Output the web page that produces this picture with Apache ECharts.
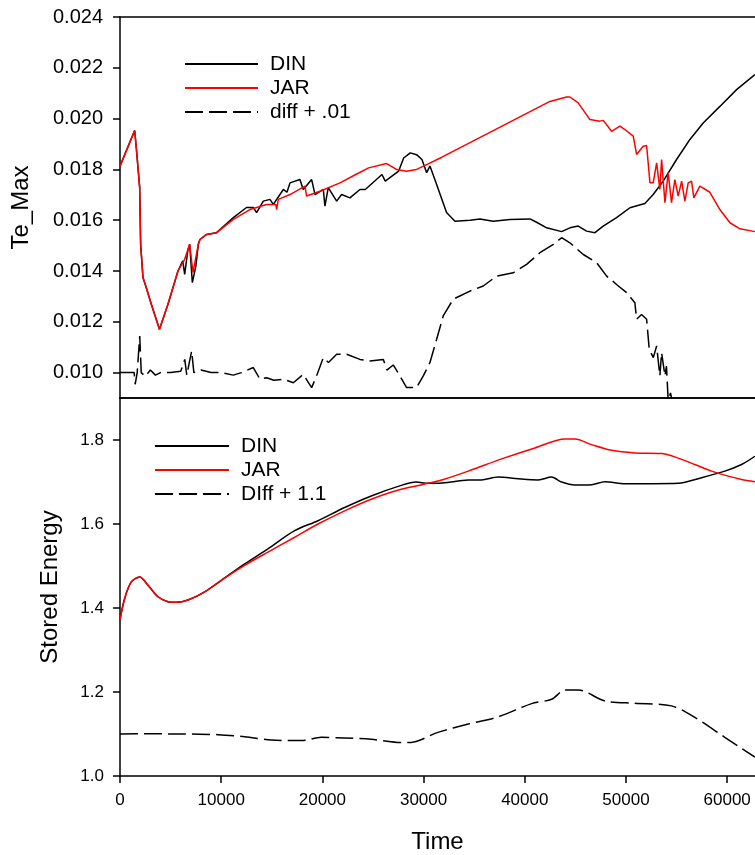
<!DOCTYPE html>
<html>
<head>
<meta charset="utf-8">
<script src="https://cdn.jsdelivr.net/npm/echarts@6/dist/echarts.min.js"></script>
<style>
  html, body { margin: 0; padding: 0; background: #fff; }
  #chart { width: 755px; height: 855px; }
</style>
</head>
<body>
<div id="chart"></div>
<script>
// ---------- Data ----------
const X_MAX = 62750;
const xTicks = [0, 10000, 20000, 30000, 40000, 50000, 60000];
const teTicks = [0.010, 0.012, 0.014, 0.016, 0.018, 0.020, 0.022, 0.024];
const seTicks = [1.0, 1.2, 1.4, 1.6, 1.8];

// Top panel: Te_Max
const teDinT = [0, 1450, 1610, 1945, 2040, 2270, 2600, 3095, 3425, 3900, 4740, 5730, 6200, 6390, 6700, 6885, 7150, 7500, 7740, 7900, 8560, 9550, 11200, 12500, 13170, 13500, 14160, 14820, 15150, 16140, 16500, 16800, 17780, 18110, 18940, 19270, 20090, 20250, 20580, 21410, 21900, 22720, 23710, 24240, 25890, 26210, 27530, 28030, 28680, 29310, 29840, 30300, 30630, 31290, 32270, 33100, 34580, 35570, 36880, 38530, 40510, 41170, 42160, 43640, 44460, 45280, 46110, 46930, 47750, 49070, 50390, 51870, 52690, 53680, 55000, 56320, 57630, 59280, 60930, 62740];
const teDinV = [0.01813, 0.01953, 0.01885, 0.01728, 0.01505, 0.01374, 0.01334, 0.01269, 0.01229, 0.01171, 0.01269, 0.01400, 0.01440, 0.01387, 0.01480, 0.01505, 0.01354, 0.01420, 0.01505, 0.01524, 0.01544, 0.01551, 0.01610, 0.01650, 0.01650, 0.01630, 0.01675, 0.01682, 0.01662, 0.01721, 0.01710, 0.01747, 0.01760, 0.01721, 0.01760, 0.01701, 0.01721, 0.01655, 0.01728, 0.01675, 0.01701, 0.01688, 0.01721, 0.01721, 0.01780, 0.01754, 0.01793, 0.01845, 0.01865, 0.01858, 0.01839, 0.01787, 0.01813, 0.01741, 0.01630, 0.01596, 0.01600, 0.01605, 0.01596, 0.01603, 0.01605, 0.01592, 0.01570, 0.01555, 0.01570, 0.01577, 0.01557, 0.01551, 0.01577, 0.01610, 0.01649, 0.01666, 0.01701, 0.01754, 0.01839, 0.01918, 0.01983, 0.02048, 0.02114, 0.02173];

const teJarT = [0, 1450, 1610, 1945, 2040, 2270, 2600, 3095, 3425, 3900, 4740, 5730, 6390, 6885, 7210, 7740, 7900, 8560, 9550, 11200, 12840, 14490, 15400, 15480, 15640, 16800, 18280, 18440, 19760, 21740, 23300, 24570, 26340, 27330, 28320, 29310, 30300, 31810, 42390, 44130, 44460, 45280, 46440, 47420, 47750, 48580, 49400, 49890, 50720, 51050, 51700, 52040, 52370, 52690, 53030, 53350, 53520, 53850, 54170, 54500, 54830, 55160, 55500, 55820, 56150, 56480, 56710, 57300, 58290, 59280, 60270, 61260, 62740];
const teJarV = [0.01813, 0.01953, 0.01885, 0.01728, 0.01505, 0.01374, 0.01334, 0.01269, 0.01229, 0.01171, 0.01269, 0.01400, 0.01446, 0.01505, 0.01394, 0.01505, 0.01524, 0.01544, 0.01551, 0.01603, 0.01642, 0.01662, 0.01662, 0.01642, 0.01682, 0.01701, 0.01734, 0.01695, 0.01714, 0.01747, 0.01780, 0.01806, 0.01823, 0.01800, 0.01793, 0.01800, 0.01819, 0.01848, 0.02066, 0.02085, 0.02085, 0.02062, 0.01996, 0.01990, 0.01993, 0.01950, 0.01970, 0.01957, 0.01931, 0.01859, 0.01891, 0.01894, 0.01747, 0.01747, 0.01826, 0.01721, 0.01839, 0.01669, 0.01787, 0.01669, 0.01760, 0.01695, 0.01754, 0.01675, 0.01747, 0.01754, 0.01688, 0.01734, 0.01710, 0.01642, 0.01590, 0.01566, 0.01555];

const teDiffT = [0, 1400, 1500, 1700, 1950, 2100, 2500, 3000, 3500, 4000, 5000, 6000, 6400, 6600, 7080, 7300, 8000, 9000, 10000, 11200, 12000, 13170, 13830, 14490, 15200, 16140, 17130, 18110, 18940, 19430, 20090, 20600, 21410, 22400, 23710, 24700, 26020, 26370, 27000, 27660, 28320, 29310, 29970, 30630, 31290, 31940, 32930, 34580, 35900, 37210, 38860, 40180, 41500, 42820, 43640, 44460, 45780, 47100, 48090, 49070, 50060, 50880, 51050, 51540, 52040, 52300, 52700, 53030, 53350, 53520, 53850, 54000, 54170, 54400, 54600, 55000, 56500, 58000, 60000, 62740];
const teDiffV = [0.01000, 0.01000, 0.00954, 0.01000, 0.01144, 0.01000, 0.00985, 0.01010, 0.00990, 0.01000, 0.01000, 0.01005, 0.01052, 0.00990, 0.01085, 0.01000, 0.01010, 0.01000, 0.01000, 0.00990, 0.01000, 0.01020, 0.00974, 0.00980, 0.00970, 0.00974, 0.00960, 0.00993, 0.00941, 0.00987, 0.01059, 0.01040, 0.01072, 0.01072, 0.01052, 0.01046, 0.01052, 0.01010, 0.01030, 0.00987, 0.00941, 0.00941, 0.00987, 0.01040, 0.01131, 0.01223, 0.01289, 0.01321, 0.01341, 0.01380, 0.01393, 0.01426, 0.01472, 0.01505, 0.01531, 0.01511, 0.01465, 0.01433, 0.01380, 0.01347, 0.01315, 0.01275, 0.01210, 0.01229, 0.01210, 0.01092, 0.01059, 0.01105, 0.00987, 0.01079, 0.00987, 0.01026, 0.00890, 0.00920, 0.00880, 0.00860, 0.00780, 0.00660, 0.00520, 0.00380];

// Bottom panel: Stored Energy
const seDinT = [0, 460, 1120, 1940, 2770, 3750, 4740, 5570, 6720, 8370, 10010, 12320, 14620, 17260, 19560, 22200, 24830, 27790, 29270, 30430, 31120, 34410, 35720, 37380, 39350, 41330, 42650, 43640, 44950, 46600, 47920, 49890, 52530, 55160, 57470, 59770, 61420, 62740];
const seDinV = [1.3715, 1.4228, 1.4622, 1.4740, 1.4543, 1.4268, 1.4150, 1.4134, 1.4189, 1.4386, 1.4660, 1.5050, 1.5410, 1.5840, 1.6078, 1.6393, 1.6668, 1.6920, 1.6999, 1.6968, 1.6968, 1.7046, 1.7050, 1.7121, 1.7078, 1.7050, 1.7117, 1.6999, 1.6928, 1.6936, 1.7007, 1.6960, 1.6960, 1.6968, 1.7102, 1.7259, 1.7417, 1.7613];

const seJarT = [0, 460, 1120, 1940, 2770, 3750, 4740, 5570, 6720, 8370, 10010, 12320, 14620, 17260, 19560, 22200, 24830, 27790, 31420, 34410, 37710, 41000, 43970, 44950, 46600, 48580, 50880, 53520, 54830, 56810, 58460, 60100, 61420, 62740];
const seJarV = [1.3715, 1.4228, 1.4622, 1.4740, 1.4543, 1.4268, 1.4150, 1.4134, 1.4189, 1.4386, 1.4660, 1.5015, 1.5331, 1.5685, 1.6000, 1.6314, 1.6590, 1.6826, 1.7022, 1.7259, 1.7550, 1.7811, 1.8023, 1.8023, 1.7890, 1.7755, 1.7693, 1.7677, 1.7598, 1.7417, 1.7259, 1.7140, 1.7062, 1.7007];

const seDiffT = [0, 2750, 6000, 9680, 12320, 14950, 17920, 19890, 22200, 24830, 27790, 28780, 31420, 34410, 37380, 40680, 42650, 43970, 45280, 47920, 50880, 54500, 56810, 59770, 62740];
const seDiffV = [1.1000, 1.1005, 1.1000, 1.0985, 1.0937, 1.0857, 1.0843, 1.0921, 1.0905, 1.0874, 1.0795, 1.0800, 1.1039, 1.1236, 1.1410, 1.1724, 1.1826, 1.2048, 1.2048, 1.1787, 1.1731, 1.1670, 1.1394, 1.0921, 1.0449];

// ---------- Chart ----------
const FONT = 'Liberation Sans, Arial, sans-serif';
const pairs = (t, v) => t.map((x, i) => [x, v[i]]);
const axisLine = { show: true, onZero: false, lineStyle: { color: '#000', width: 1.5 } };
const plainX = (grid, pos) => ({
  type: 'value', gridIndex: grid, position: pos, min: 0, max: X_MAX,
  axisLine: axisLine, axisTick: { show: false }, axisLabel: { show: false }, splitLine: { show: false }
});
const legendText = { fontFamily: FONT, fontSize: 21, color: '#000', lineHeight: 24, padding: [0, 0, 0, 7] };

const chart = echarts.init(document.getElementById('chart'), null, { renderer: 'canvas' });
chart.setOption({
  animation: false,
  backgroundColor: '#fff',
  textStyle: { fontFamily: FONT, color: '#000' },
  grid: [
    { left: 120, right: 0, top: 17, height: 381, containLabel: false },
    { left: 120, right: 0, top: 398, height: 381, containLabel: false }
  ],
  legend: [
    {
      orient: 'vertical', left: 179, top: 47, itemWidth: 73, itemHeight: 14, itemGap: 0,
      data: ['DIN', 'JAR', 'diff + .01'], selectedMode: false,
      itemStyle: { opacity: 0 },
      textStyle: legendText
    },
    {
      orient: 'vertical', left: 149, top: 429, itemWidth: 74, itemHeight: 14, itemGap: 0,
      data: ['DIN', 'JAR', 'DIff + 1.1'], selectedMode: false,
      itemStyle: { opacity: 0 },
      textStyle: legendText
    }
  ],
  xAxis: [
    plainX(0, 'bottom'),
    plainX(0, 'top'),
    {
      type: 'value', gridIndex: 1, position: 'bottom', min: 0, max: X_MAX,
      name: 'Time', nameLocation: 'middle', nameGap: 54,
      nameTextStyle: { fontFamily: FONT, fontSize: 24, color: '#000' },
      axisLine: axisLine,
      axisTick: { show: true, length: 7, inside: false, customValues: xTicks, lineStyle: { color: '#000', width: 1.5 } },
      axisLabel: { show: true, margin: 16, customValues: xTicks, fontFamily: FONT, fontSize: 17, color: '#000',
                   formatter: v => String(Math.round(v)) },
      splitLine: { show: false }
    },
    plainX(1, 'top')
  ],
  yAxis: [
    {
      type: 'value', gridIndex: 0, min: 0.009, max: 0.024,
      name: 'Te_Max', nameLocation: 'middle', nameGap: 87, nameRotate: 90,
      nameTextStyle: { fontFamily: FONT, fontSize: 24, color: '#000' },
      axisLine: axisLine,
      axisTick: { show: true, length: 7, customValues: teTicks, lineStyle: { color: '#000', width: 1.5 } },
      axisLabel: { show: true, margin: 17, customValues: teTicks, fontFamily: FONT, fontSize: 20, color: '#000',
                   formatter: v => v.toFixed(3) },
      splitLine: { show: false }
    },
    {
      type: 'value', gridIndex: 1, min: 1.0, max: 1.9,
      name: 'Stored Energy', nameLocation: 'middle', nameGap: 58, nameRotate: 90,
      nameTextStyle: { fontFamily: FONT, fontSize: 24, color: '#000' },
      axisLine: axisLine,
      axisTick: { show: true, length: 7, customValues: seTicks, lineStyle: { color: '#000', width: 1.5 } },
      axisLabel: { show: true, margin: 16, customValues: seTicks, fontFamily: FONT, fontSize: 17, color: '#000',
                   formatter: v => v.toFixed(1) },
      splitLine: { show: false }
    }
  ],
  series: [
    { name: 'DIN', type: 'line', xAxisIndex: 0, yAxisIndex: 0, data: pairs(teDinT, teDinV),
      showSymbol: false, symbol: 'none', clip: true, lineStyle: { color: '#000', width: 1.5 }, itemStyle: { color: '#000' } },
    { name: 'JAR', type: 'line', xAxisIndex: 0, yAxisIndex: 0, data: pairs(teJarT, teJarV),
      showSymbol: false, symbol: 'none', clip: true, lineStyle: { color: '#ff0000', width: 1.5 }, itemStyle: { color: '#ff0000' } },
    { name: 'diff + .01', type: 'line', xAxisIndex: 0, yAxisIndex: 0, data: pairs(teDiffT, teDiffV),
      showSymbol: false, symbol: 'none', clip: true, lineStyle: { color: '#000', width: 1.5, type: [18, 6] }, itemStyle: { color: '#000' } },
    { name: 'DIN', type: 'line', xAxisIndex: 2, yAxisIndex: 1, data: pairs(seDinT, seDinV), smooth: 0.3,
      showSymbol: false, symbol: 'none', clip: true, lineStyle: { color: '#000', width: 1.5 }, itemStyle: { color: '#000' } },
    { name: 'JAR', type: 'line', xAxisIndex: 2, yAxisIndex: 1, data: pairs(seJarT, seJarV), smooth: 0.3,
      showSymbol: false, symbol: 'none', clip: true, lineStyle: { color: '#ff0000', width: 1.5 }, itemStyle: { color: '#ff0000' } },
    { name: 'DIff + 1.1', type: 'line', xAxisIndex: 2, yAxisIndex: 1, data: pairs(seDiffT, seDiffV), smooth: 0.3,
      showSymbol: false, symbol: 'none', clip: true, lineStyle: { color: '#000', width: 1.5, type: [18, 6] }, itemStyle: { color: '#000' } }
  ]
});
</script>
</body>
</html>
